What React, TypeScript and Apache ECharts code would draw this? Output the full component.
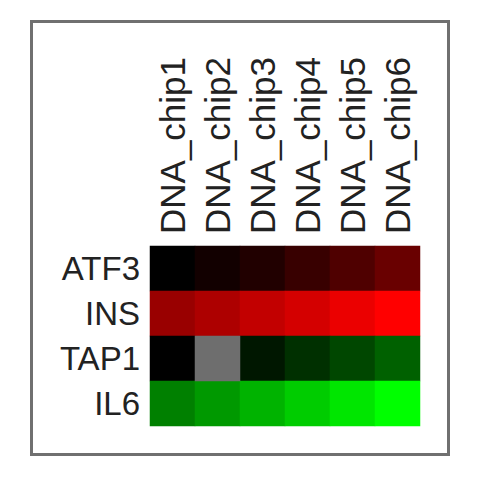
import React, { useEffect, useRef } from "react";
import * as echarts from "echarts";

const chips = ["DNA_chip1", "DNA_chip2", "DNA_chip3", "DNA_chip4", "DNA_chip5", "DNA_chip6"];
const genes = ["ATF3", "INS", "TAP1", "IL6"];
// expression values: positive = red, negative = green, null = missing
const atf3 = [0.0, 0.07, 0.13, 0.22, 0.31, 0.41];
const ins = [0.6, 0.68, 0.76, 0.83, 0.92, 1.0];
const tap1 = [0.0, null, -0.09, -0.19, -0.28, -0.38];
const il6 = [-0.5, -0.6, -0.7, -0.8, -0.9, -1.0];
const rows = [atf3, ins, tap1, il6];

export default function App() {
  const ref = useRef<HTMLDivElement>(null);
  useEffect(() => {
    document.body.style.margin = "0";
    const chart = echarts.init(ref.current!, null, { renderer: "svg" });
    const data: any[] = [];
    const missing: any[] = [];
    rows.forEach((r, yi) =>
      r.forEach((v, xi) => {
        if (v === null) missing.push([xi, yi, 0]);
        else data.push([xi, yi, v]);
      })
    );
    chart.setOption({
      animation: false,
      backgroundColor: "#ffffff",
      grid: { left: 150, top: 246, width: 270, height: 180 },
      xAxis: {
        type: "category",
        data: chips,
        position: "top",
        axisLine: { show: false },
        axisTick: { show: false },
        splitLine: { show: false },
        axisLabel: {
          interval: 0,
          rotate: -90,
          margin: 12,
          fontSize: 35,
          color: "#222",
          fontFamily: "Liberation Sans",
        },
      },
      yAxis: {
        type: "category",
        data: genes,
        inverse: true,
        axisLine: { show: false },
        axisTick: { show: false },
        splitLine: { show: false },
        axisLabel: {
          interval: 0,
          margin: 10,
          fontSize: 33,
          color: "#222",
          fontFamily: "Liberation Sans",
        },
      },
      visualMap: [
        {
          show: false,
          type: "continuous",
          seriesIndex: 0,
          min: -1,
          max: 1,
          inRange: { color: ["#00ff00", "#000000", "#ff0000"] },
        },
        {
          show: false,
          type: "continuous",
          seriesIndex: 1,
          min: 0,
          max: 1,
          inRange: { color: ["#6e6e6e", "#6e6e6e"] },
        },
      ],
      series: [
        {
          type: "heatmap",
          data,
          itemStyle: { borderWidth: 0 },
        },
        {
          type: "heatmap",
          data: missing,
          itemStyle: { borderWidth: 0 },
        },
      ],
      graphic: [
        {
          type: "rect",
          shape: { x: 31.5, y: 21.5, width: 417, height: 433 },
          style: { fill: "none", stroke: "#707070", lineWidth: 3 },
        },
      ],
    });
    return () => chart.dispose();
  }, []);
  return <div ref={ref} style={{ width: 480, height: 480 }} />;
}
